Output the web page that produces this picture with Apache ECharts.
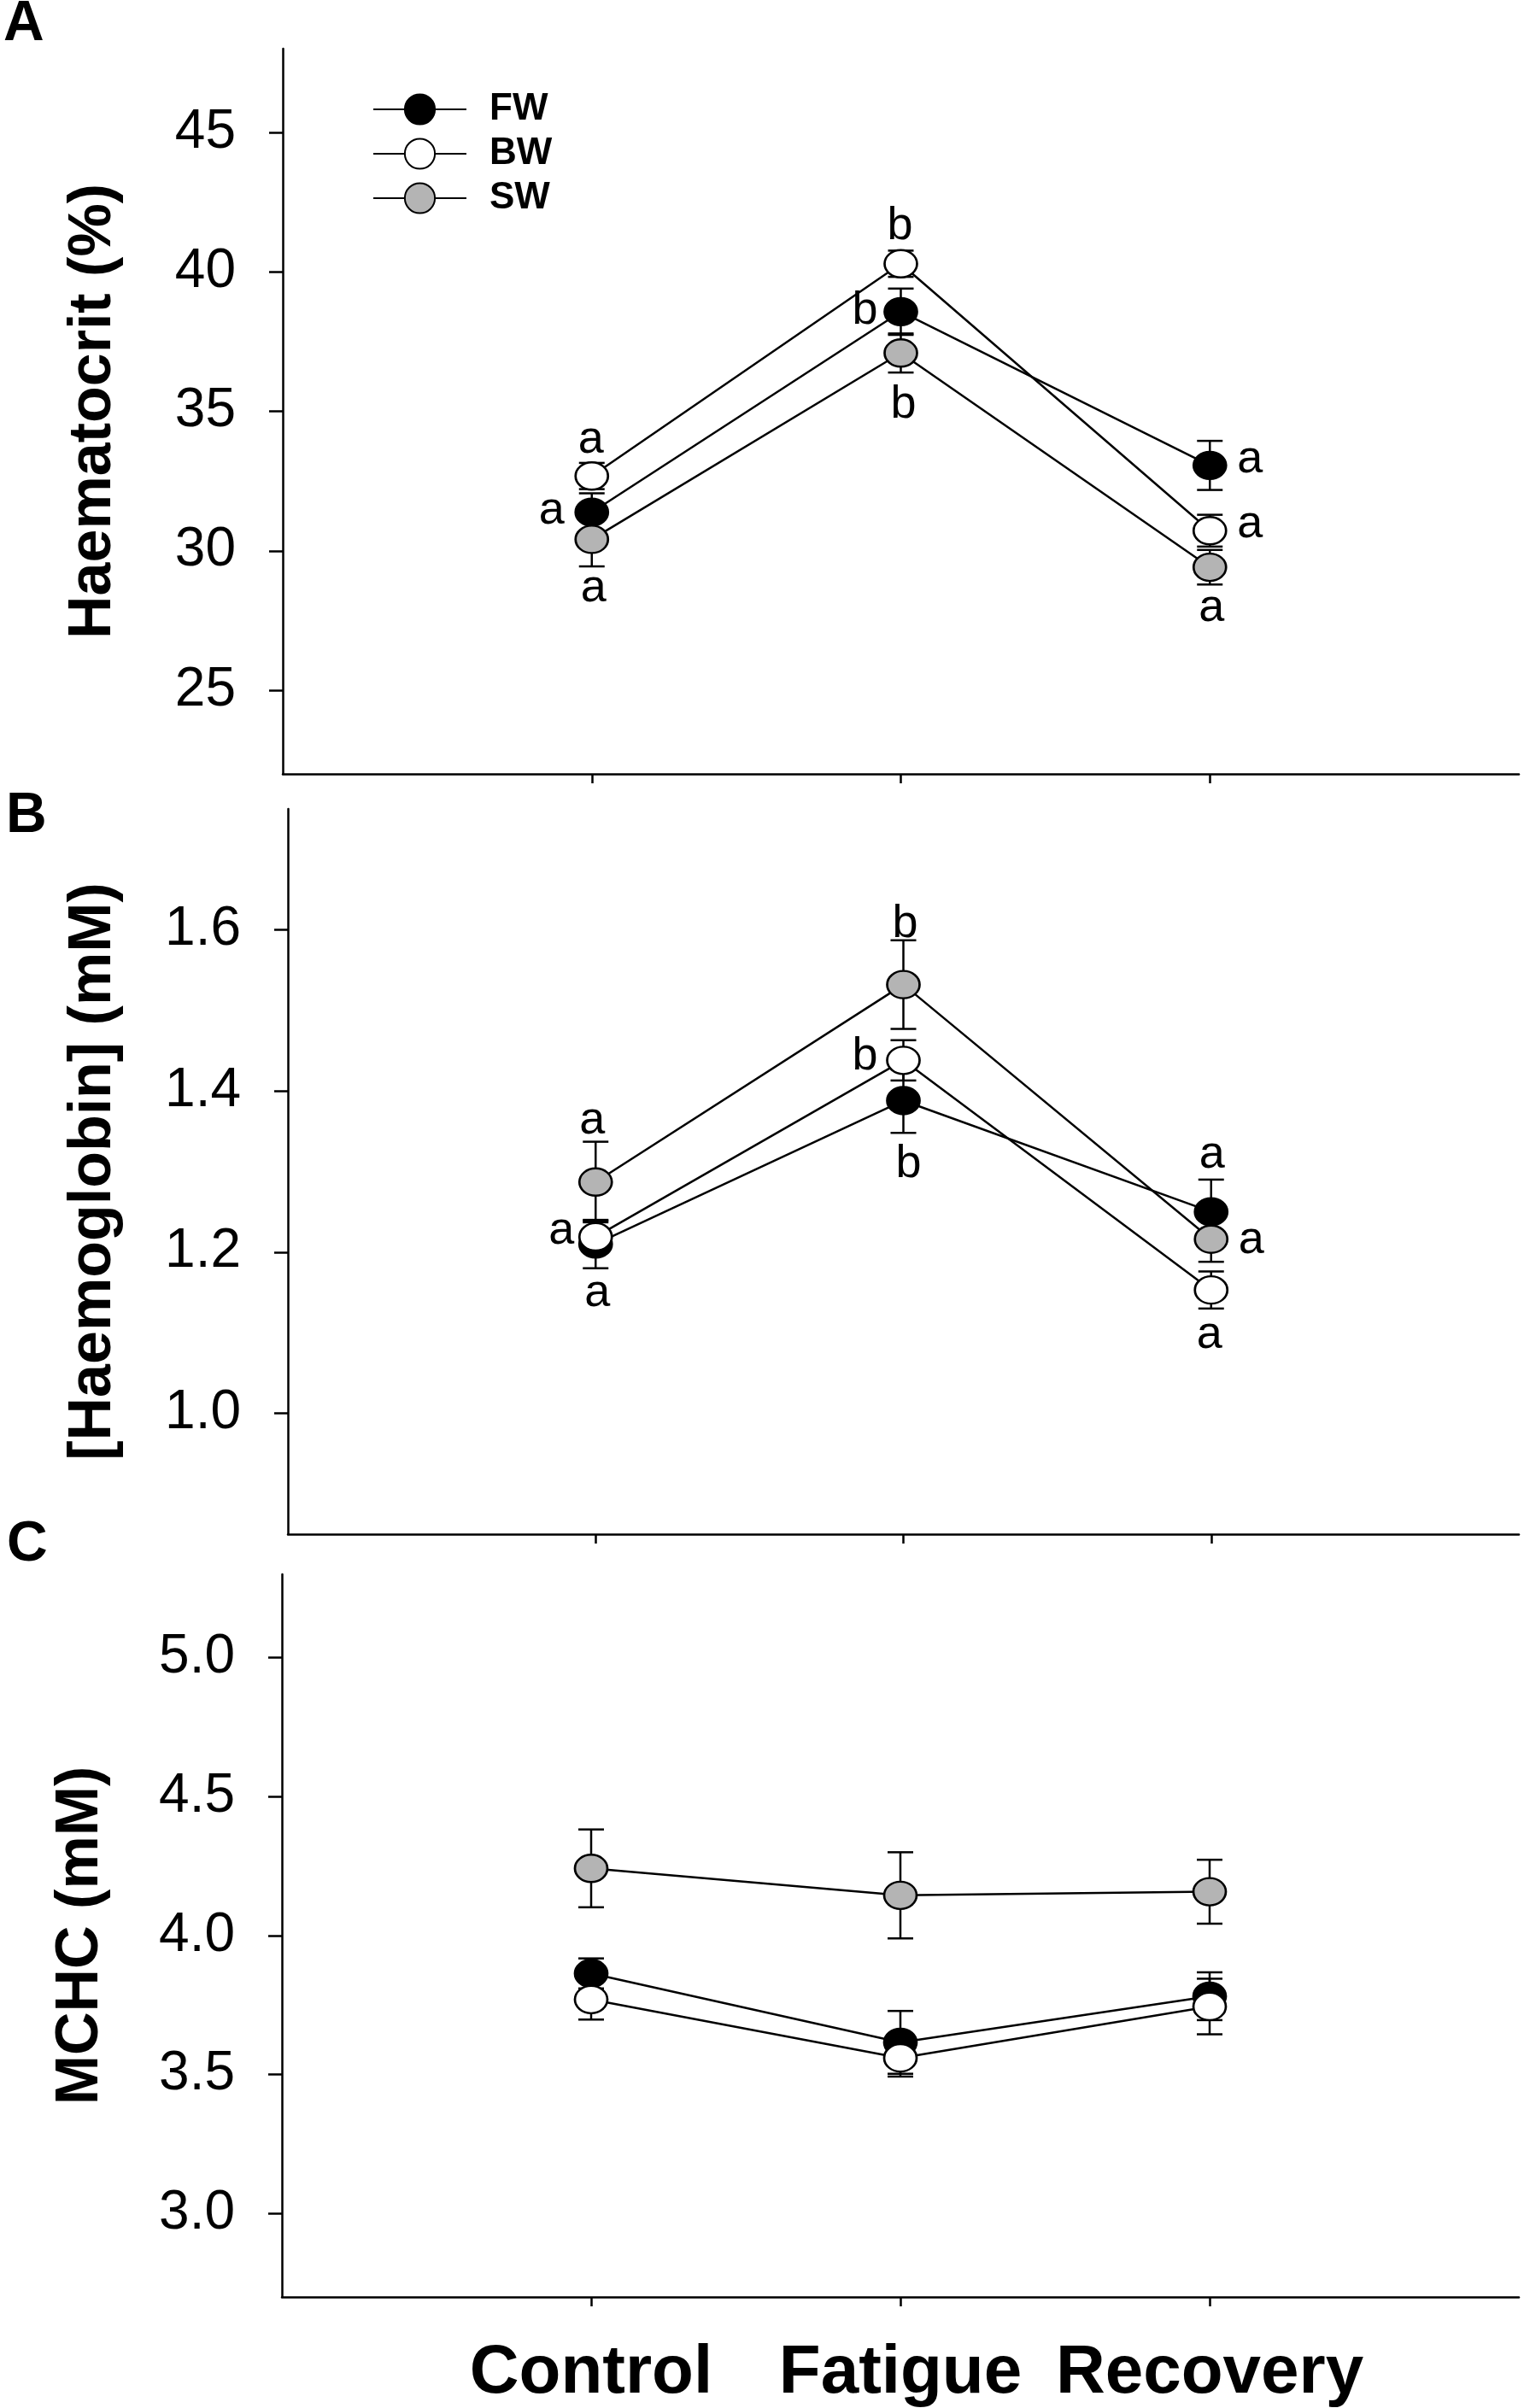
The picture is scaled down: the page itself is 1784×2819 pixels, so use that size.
<!DOCTYPE html>
<html>
<head>
<meta charset="utf-8">
<title>Haematocrit, haemoglobin and MCHC</title>
<script src="https://cdn.jsdelivr.net/npm/echarts@6/dist/echarts.min.js"></script>
<style>
html, body { margin: 0; padding: 0; background: #fff; }
#chart { width: 1784px; height: 2819px; }
</style>
</head>
<body>
<div id="chart"></div>
<script>
// groups and sampling stages
var groups = ['FW', 'BW', 'SW'];
var stages = ['Control', 'Fatigue', 'Recovery'];
var stageX = [1, 2, 3];

// A: haematocrit (%)
var hctTicks = [25, 30, 35, 40, 45];
var hctFW = [31.38, 38.57, 33.06];
var hctFWErr = [0.68, 0.83, 0.88];
var hctBW = [32.68, 40.29, 30.72];
var hctBWErr = [0.47, 0.47, 0.57];
var hctSW = [30.41, 37.09, 29.41];
var hctSWErr = [0.97, 0.70, 0.62];
var hctLetters = {FW: ['a', 'b', 'a'], BW: ['a', 'b', 'a'], SW: ['a', 'b', 'a']};

// B: [haemoglobin] (mM)
var hbTicks = [1.0, 1.2, 1.4, 1.6];
var hbFW = [1.210, 1.388, 1.250];
var hbFWErr = [0.030, 0.040, 0.040];
var hbBW = [1.219, 1.438, 1.153];
var hbBWErr = [0.020, 0.025, 0.023];
var hbSW = [1.287, 1.532, 1.216];
var hbSWErr = [0.050, 0.055, 0.028];
var hbLetters = {FW: ['a', 'b', 'a'], BW: ['a', 'b', 'a'], SW: ['a', 'b', 'a']};

// C: MCHC (mM)
var mchcTicks = [3.0, 3.5, 4.0, 4.5, 5.0];
var mchcFW = [3.864, 3.616, 3.782];
var mchcFWErr = [0.054, 0.113, 0.086];
var mchcBW = [3.770, 3.560, 3.745];
var mchcBWErr = [0.072, 0.067, 0.100];
var mchcSW = [4.242, 4.145, 4.158];
var mchcSWErr = [0.140, 0.155, 0.115];

var FONT = '"Liberation Sans", Arial, Helvetica, sans-serif';
var ELLIPSE = 'path://M0,50A50,50,0,1,1,100,50A50,50,0,1,1,0,50Z';
var fills = {FW: '#000000', BW: '#ffffff', SW: '#b4b4b4'};

// letter offsets from the point centre, px
var hctOffsets = {
    FW: [[-47, -2], [-42, -1], [47, -7]],
    BW: [[-1, -42], [-1, -44], [47, -7]],
    SW: [[2, 58], [3, 61], [2, 48]]
};
var hbOffsets = {
    FW: [[2, 58], [6, 75], [1, -67]],
    BW: [[-40, -7], [-45, -4], [-2, 53]],
    SW: [[-4, -72], [2, -71], [47, 1]]
};

var panels = [
    {name: 'Haematocrit (%)', min: 22, max: 48, ticks: hctTicks, dec: 0,
     left: 331, top: 57, height: 849, nameGap: 186,
     values: {FW: hctFW, BW: hctBW, SW: hctSW},
     errs: {FW: hctFWErr, BW: hctBWErr, SW: hctSWErr},
     letters: hctLetters, offsets: hctOffsets},
    {name: '[Haemoglobin] (mM)', min: 0.85, max: 1.75, ticks: hbTicks, dec: 1,
     left: 337, top: 947, height: 849, nameGap: 192,
     values: {FW: hbFW, BW: hbBW, SW: hbSW},
     errs: {FW: hbFWErr, BW: hbBWErr, SW: hbSWErr},
     letters: hbLetters, offsets: hbOffsets},
    {name: 'MCHC (mM)', min: 2.7, max: 5.3, ticks: mchcTicks, dec: 1,
     left: 330, top: 1843, height: 848, nameGap: 200,
     values: {FW: mchcFW, BW: mchcBW, SW: mchcSW},
     errs: {FW: mchcFWErr, BW: mchcBWErr, SW: mchcSWErr},
     letters: null, offsets: null}
];

var axisLineStyle = {color: '#000', width: 2.5};
var grids = [], xAxes = [], yAxes = [], series = [];

function errorBars(params, api) {
    var x = api.value(0), y = api.value(1), e = api.value(2);
    var hi = api.coord([x, y + e]);
    var lo = api.coord([x, y - e]);
    var w = 15;
    var st = {stroke: '#000', lineWidth: 2.5};
    return {
        type: 'group',
        children: [
            {type: 'line', shape: {x1: hi[0], y1: hi[1], x2: lo[0], y2: lo[1]}, style: st},
            {type: 'line', shape: {x1: hi[0] - w, y1: hi[1], x2: hi[0] + w, y2: hi[1]}, style: st},
            {type: 'line', shape: {x1: lo[0] - w, y1: lo[1], x2: lo[0] + w, y2: lo[1]}, style: st}
        ]
    };
}

panels.forEach(function (p, i) {
    grids.push({left: p.left, top: p.top, width: 1778 - p.left, height: p.height});
    xAxes.push({
        type: 'value', gridIndex: i, min: 0, max: 4,
        axisLine: {lineStyle: axisLineStyle},
        axisTick: {customValues: stageX, length: 11, lineStyle: axisLineStyle},
        axisLabel: {
            show: i === 2, customValues: stageX, margin: 50,
            formatter: function (v) { return stages[v - 1] || ''; },
            color: '#000', fontFamily: FONT, fontSize: 80, fontWeight: 'bold'
        },
        splitLine: {show: false}
    });
    yAxes.push({
        type: 'value', gridIndex: i, min: p.min, max: p.max,
        name: p.name, nameLocation: 'middle', nameGap: p.nameGap,
        nameTextStyle: {color: '#000', fontFamily: FONT, fontSize: 70, fontWeight: 'bold'},
        axisLine: {show: true, lineStyle: axisLineStyle},
        axisTick: {customValues: p.ticks, length: 16, lineStyle: axisLineStyle},
        axisLabel: {
            customValues: p.ticks, margin: 55,
            formatter: function (v) { return v.toFixed(p.dec); },
            color: '#000', fontFamily: FONT, fontSize: 64
        },
        splitLine: {show: false}
    });
    groups.forEach(function (g) {
        var vals = p.values[g], errs = p.errs[g];
        series.push({
            name: g + ' error', type: 'custom', xAxisIndex: i, yAxisIndex: i,
            z: 2, silent: true, renderItem: errorBars,
            data: stageX.map(function (x, k) { return [x, vals[k], errs[k]]; })
        });
    });
    groups.forEach(function (g) {
        var vals = p.values[g];
        series.push({
            name: g, type: 'line', xAxisIndex: i, yAxisIndex: i, z: 3,
            symbol: ELLIPSE, symbolSize: [38, 32],
            itemStyle: {color: fills[g], borderColor: '#000', borderWidth: 2.5},
            lineStyle: {color: '#000', width: 2.5},
            data: stageX.map(function (x, k) {
                var item = {value: [x, vals[k]]};
                if (p.letters) {
                    item.label = {
                        show: true, position: 'inside', offset: p.offsets[g][k],
                        formatter: p.letters[g][k],
                        color: '#000', fontFamily: FONT, fontSize: 54
                    };
                }
                return item;
            })
        });
    });
});

var chart = echarts.init(document.getElementById('chart'), null, {renderer: 'canvas'});
chart.setOption({
    animation: false,
    backgroundColor: '#fff',
    grid: grids,
    xAxis: xAxes,
    yAxis: yAxes,
    legend: {
        data: groups, orient: 'vertical', left: 431, top: 101,
        itemWidth: 109, itemHeight: 44, itemGap: 8,
        textStyle: {color: '#000', fontFamily: FONT, fontSize: 44, fontWeight: 'bold', padding: [0, 0, 0, 22]},
        selectedMode: false
    },
    graphic: [
        {type: 'text', left: 4, top: -4, style: {text: 'A', font: 'bold 66px ' + FONT, fill: '#000'}},
        {type: 'text', left: 7, top: 923, style: {text: 'B', font: 'bold 66px ' + FONT, fill: '#000'}},
        {type: 'text', left: 8, top: 1776, style: {text: 'C', font: 'bold 66px ' + FONT, fill: '#000'}}
    ],
    series: series
});
</script>
</body>
</html>
